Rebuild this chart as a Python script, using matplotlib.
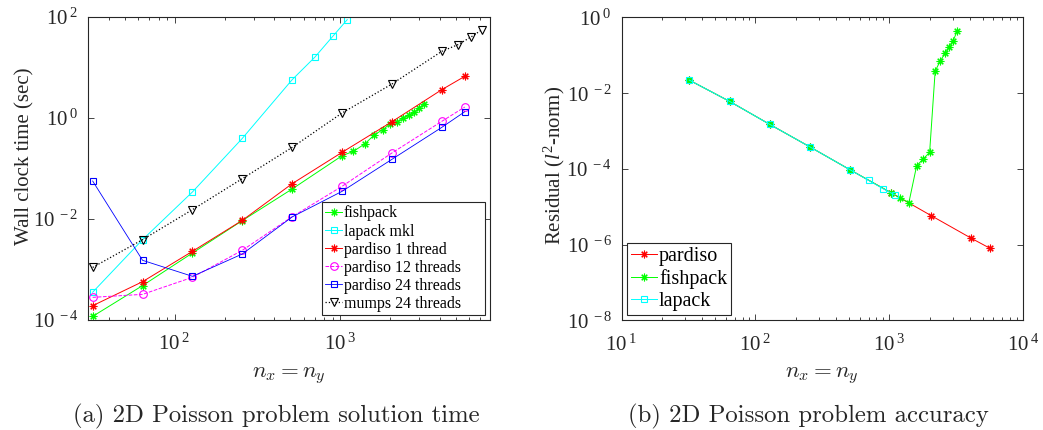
import numpy as np
import matplotlib
matplotlib.use('Agg')
import matplotlib.pyplot as plt
from matplotlib.ticker import FixedLocator, FuncFormatter, LogLocator, NullLocator

# timings (sec) vs grid size
fish_n = [32, 64, 128, 256, 512, 1024, 1200, 1400, 1600, 1800, 2000, 2200, 2400, 2600, 2800, 3000, 3200]
fish_t = [1.18e-4, 4.8e-4, 2.12e-3, 9.3e-3, 0.0393, 0.179, 0.219, 0.305, 0.46, 0.587, 0.773, 0.834, 1.0, 1.13, 1.315, 1.58, 1.92]

lapack_n = [32, 64, 128, 256, 512, 700, 900, 1100]
lapack_t = [3.55e-4, 3.9e-3, 0.0343, 0.395, 5.74, 15.9, 41.4, 88.5]

pardiso_n = [32, 64, 128, 256, 512, 1024, 2048, 4096, 5632]
pardiso1_t = [1.92e-4, 5.74e-4, 2.29e-3, 9.4e-3, 0.0501, 0.209, 0.845, 3.64, 6.68]
pardiso12_t = [2.81e-4, 3.22e-4, 7.0e-4, 2.4e-3, 0.0111, 0.0444, 0.203, 0.859, 1.65]
pardiso24_t = [0.0565, 1.52e-3, 7.33e-4, 2.03e-3, 0.011, 0.0353, 0.152, 0.653, 1.33]

mumps_n = [32, 64, 128, 256, 512, 1024, 2048, 4096, 5120, 6144, 7168]
mumps_t = [1.1e-3, 3.9e-3, 0.0153, 0.063, 0.262, 1.256, 4.71, 20.9, 28.3, 40.2, 56.1]

# residuals vs grid size
res_pardiso = [0.0222, 0.0061, 0.0015, 3.8e-4, 9.4e-5, 2.38e-5, 5.9e-6, 1.48e-6, 8.1e-7]
res_fish = [0.0222, 0.0061, 0.0015, 3.8e-4, 9.4e-5, 2.38e-5, 1.72e-5, 1.3e-5, 1.22e-4, 1.87e-4,
            2.75e-4, 0.0385, 0.0705, 0.112, 0.168, 0.243, 0.427]
res_lapack = [0.0222, 0.0061, 0.0015, 3.8e-4, 9.4e-5, 5.0e-5, 3.0e-5, 2.06e-5]

plt.rcParams['font.family'] = ['Liberation Serif', 'DejaVu Serif']
plt.rcParams['mathtext.fontset'] = 'custom'
plt.rcParams['mathtext.rm'] = 'Liberation Serif'
plt.rcParams['mathtext.it'] = 'Liberation Serif:italic'

AX = '#262626'
ast = (8, 2, 0)  # asterisk marker


def pow_label(v, pos):
    e = int(round(np.log10(v)))
    return r'$10^{\;%d}$' % e


def style_axes(ax, yticks):
    ax.set_xscale('log')
    ax.set_yscale('log')
    for s in ax.spines.values():
        s.set_color(AX)
        s.set_linewidth(0.8)
    ax.yaxis.set_major_locator(FixedLocator(yticks))
    ax.yaxis.set_minor_locator(NullLocator())
    ax.xaxis.set_major_locator(LogLocator(base=10))
    ax.xaxis.set_minor_locator(LogLocator(base=10, subs=np.arange(2, 10)))
    ax.xaxis.set_major_formatter(FuncFormatter(pow_label))
    ax.yaxis.set_major_formatter(FuncFormatter(pow_label))
    ax.tick_params(which='both', direction='in', top=True, right=True, colors=AX, labelcolor=AX,
                   labelsize=15, width=0.6)
    ax.tick_params(which='major', length=4, pad=7)
    ax.tick_params(axis='x', which='major', pad=10)
    ax.tick_params(which='minor', length=2.5)
    ax.set_xlabel(r'$n_x = n_y$', fontsize=16.5, color=AX, math_fontfamily='cm')
    ax.xaxis.set_label_coords(0.5, -0.15)


fig = plt.figure(figsize=(10.43, 4.30), dpi=100)

# (a) timings
ax1 = fig.add_axes([0.0844, 0.2558, 0.3854, 0.7047])
kw = dict(lw=0.7, ms=5.5, mew=0.8, fillstyle='none')
ax1.plot(fish_n, fish_t, '-', color='#00ff00', marker=ast, label='fishpack', **kw)
ax1.plot(lapack_n, lapack_t, '-', color='#00ffff', marker='s', label='lapack mkl', lw=0.7, ms=4.5, mew=0.8, fillstyle='none')
ax1.plot(pardiso_n, pardiso1_t, '-', color='#ff0000', marker=ast, label='pardiso 1 thread', **kw)
ax1.plot(pardiso_n, pardiso12_t, '--', color='#ff00ff', marker='o', label='pardiso 12 threads', **kw)
ax1.plot(pardiso_n, pardiso24_t, '-', color='#0000ff', marker='s', label='pardiso 24 threads', lw=0.6, ms=4.5, mew=0.8, fillstyle='none')
ax1.plot(mumps_n, mumps_t, ':', color='black', marker='v', label='mumps 24 threads', lw=0.9, ms=5.5, mew=0.8, fillstyle='none')
style_axes(ax1, [1e-4, 1e-2, 1e0, 1e2])
ax1.set_xlim(30, 8000)
ax1.set_ylim(1e-4, 1e2)
ax1.set_ylabel('Wall clock time (sec)', fontsize=15, color=AX)
ax1.yaxis.set_label_coords(-0.133, 0.54)
leg1 = ax1.legend(loc='lower left', bbox_to_anchor=(0.581, 0.0165, 0.407, 0.36), mode='expand',
                  fontsize=11.5, fancybox=False, framealpha=1, edgecolor=AX, borderpad=0.2,
                  labelspacing=0.13, handlelength=1.1, handletextpad=0.1, borderaxespad=0, numpoints=1)
leg1.get_frame().set_linewidth(0.8)

# (b) accuracy
ax2 = fig.add_axes([0.596, 0.2547, 0.385, 0.7047])
ax2.plot(pardiso_n, res_pardiso, '-', color='#ff0000', marker=ast, label='pardiso', **kw)
ax2.plot(fish_n, res_fish, '-', color='#00ff00', marker=ast, label='fishpack', **kw)
ax2.plot(lapack_n, res_lapack, '-', color='#00ffff', marker='s', label='lapack', lw=0.7, ms=4.5, mew=0.8, fillstyle='none')
style_axes(ax2, [1e-8, 1e-6, 1e-4, 1e-2, 1e0])
ax2.set_xlim(10, 1e4)
ax2.set_ylim(1e-8, 1)
ax2.set_ylabel(r'Residual ($l^2$-norm)', fontsize=15, color=AX)
ax2.yaxis.set_label_coords(-0.135, 0.513)
leg2 = ax2.legend(loc='lower left', bbox_to_anchor=(0.0125, 0.018), fontsize=14.5, fancybox=False,
                  framealpha=1, edgecolor=AX, borderpad=0.2, labelspacing=0.15, handlelength=1.3,
                  handletextpad=0.1, borderaxespad=0, numpoints=1)
leg2.get_frame().set_linewidth(0.8)

fig.text(0.265, 0.032, '(a) 2D Poisson problem solution time', family='cmr10', fontsize=17.8,
         ha='center', va='center', color=AX)
fig.text(0.775, 0.032, '(b) 2D Poisson problem accuracy', family='cmr10', fontsize=17.8,
         ha='center', va='center', color=AX)

fig.savefig('out.png', dpi=100)
